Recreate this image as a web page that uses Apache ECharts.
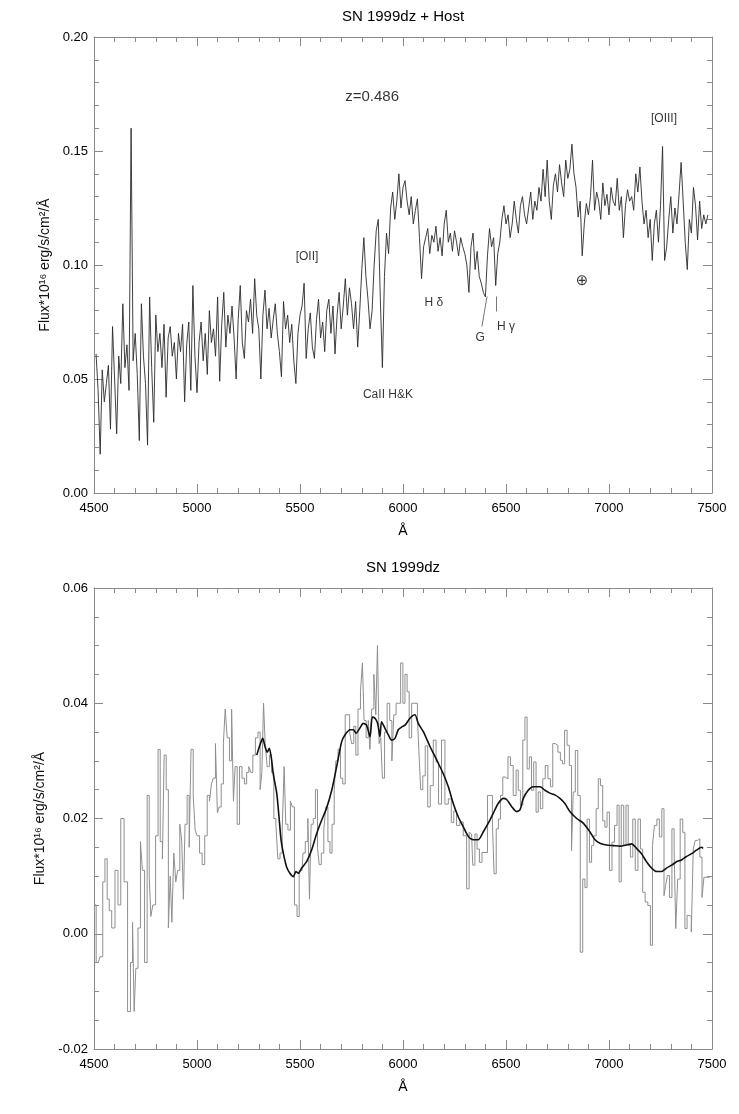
<!DOCTYPE html>
<html>
<head>
<meta charset="utf-8">
<script src="https://cdn.jsdelivr.net/npm/echarts@6/dist/echarts.min.js"></script>
<style>
html,body{margin:0;padding:0;background:#fff;}
#chart{width:739px;height:1114px;}
</style>
</head>
<body>
<div id="chart"></div>
<script>
// ---------- Top panel: SN 1999dz + Host (10 A sampling, first at 4510) ----------
const topStart = 4510;
const topStep = 10;
const topFlux = [
0.061,0.045,0.017,0.054,0.040,0.048,0.056,0.028,0.073,0.050,
0.026,0.060,0.048,0.083,0.055,0.065,0.045,0.160,0.058,0.070,
0.052,0.023,0.083,0.060,0.048,0.021,0.086,0.055,0.031,0.078,
0.062,0.070,0.055,0.074,0.042,0.068,0.073,0.060,0.066,0.050,
0.070,0.062,0.074,0.040,0.065,0.075,0.045,0.091,0.060,0.044,
0.066,0.075,0.058,0.070,0.052,0.080,0.066,0.072,0.060,0.086,
0.049,0.074,0.088,0.064,0.078,0.070,0.082,0.068,0.050,0.076,
0.091,0.066,0.059,0.080,0.075,0.085,0.070,0.094,0.078,0.072,
0.050,0.078,0.089,0.072,0.081,0.068,0.076,0.083,0.070,0.062,
0.051,0.084,0.072,0.078,0.066,0.074,0.058,0.048,0.070,0.078,
0.082,0.092,0.059,0.072,0.079,0.064,0.059,0.076,0.085,0.068,
0.075,0.062,0.080,0.085,0.070,0.082,0.061,0.078,0.088,0.072,
0.082,0.094,0.078,0.090,0.083,0.072,0.084,0.064,0.080,0.098,
0.112,0.095,0.085,0.072,0.080,0.100,0.115,0.120,0.085,0.055,
0.095,0.114,0.105,0.125,0.132,0.120,0.128,0.140,0.125,0.134,
0.137,0.128,0.122,0.130,0.118,0.124,0.129,0.112,0.094,0.108,
0.112,0.116,0.105,0.113,0.110,0.117,0.106,0.112,0.104,0.118,
0.124,0.110,0.114,0.106,0.115,0.110,0.104,0.112,0.108,0.105,
0.100,0.088,0.108,0.114,0.098,0.106,0.095,0.092,0.088,0.086,
0.104,0.116,0.108,0.112,0.091,0.105,0.110,0.120,0.126,0.118,
0.122,0.112,0.118,0.128,0.120,0.114,0.126,0.130,0.122,0.118,
0.125,0.132,0.120,0.128,0.124,0.134,0.128,0.142,0.130,0.146,
0.128,0.120,0.135,0.140,0.132,0.144,0.136,0.130,0.146,0.138,
0.142,0.153,0.140,0.134,0.121,0.128,0.104,0.118,0.127,0.122,
0.130,0.146,0.124,0.132,0.128,0.120,0.136,0.126,0.131,0.122,
0.134,0.128,0.126,0.138,0.124,0.130,0.112,0.126,0.133,0.128,
0.130,0.124,0.140,0.132,0.143,0.128,0.118,0.124,0.112,0.120,
0.102,0.118,0.124,0.110,0.126,0.152,0.102,0.108,0.120,0.130,
0.114,0.125,0.118,0.131,0.145,0.128,0.110,0.098,0.120,0.114,
0.134,0.126,0.111,0.128,0.116,0.122,0.118,0.122
];

// line identifications (text, wavelength, flux) in the top panel
const annoText = ['z=0.486','[OII]','CaII H&K','H \u03B4','G','H \u03B3','\u2295','[OIII]'];
const annoWave = [5850, 5534, 5927, 6150, 6374, 6500, 6869, 7267];
const annoFlux = [0.1736, 0.1037, 0.0431, 0.0835, 0.0681, 0.0730, 0.0932, 0.1640];
const annoSize = [15, 12, 12, 12, 12, 12, 15, 12];
// short marker lines for G and H gamma
const gLine = [[6383, 0.0730], [6408, 0.0862]];
const hgLine = [[6451, 0.0862], [6451, 0.0796]];

// ---------- Bottom panel: SN 1999dz binned spectrum ----------
const histWave = [
4500,4521,4537,4548,4558,4570,4578,4594,4610,4623,
4637,4655,4671,4683,4691,4699,4707,4720,4731,4739,
4752,4764,4772,4780,4791,4807,4815,4828,4836,4845,
4856,4866,4874,4882,4893,4901,4911,4922,4930,4938,
4946,4958,4966,4976,4987,4995,5006,5019,5031,5044,
5055,5066,5074,5084,5095,5103,5112,5123,5133,5141,
5152,5163,5173,5181,5189,5201,5212,5225,5236,5246,
5257,5265,5277,5290,5302,5311,5319,5327,5335,5346,
5357,5367,5379,5387,5398,5408,5419,5427,5435,5448,
5459,5467,5479,5492,5500,5510,5519,5532,5544,5548,
5560,5569,5581,5589,5597,5610,5621,5629,5642,5649,
5662,5670,5678,5691,5702,5713,5726,5736,5746,5755,
5767,5775,5788,5799,5807,5815,5827,5836,5843,5853,
5864,5872,5880,5888,5896,5904,5917,5929,5942,5950,
5961,5972,5983,5994,6005,6014,6026,6034,6050,6066,
6074,6082,6090,6102,6114,6126,6139,6155,6166,6179,
6195,6212,6228,6241,6252,6268,6284,6301,6317,6325,
6333,6344,6354,6365,6377,6390,6406,6414,6430,6438,
6446,6459,6467,6479,6490,6503,6516,6527,6543,6555,
6564,6576,6587,6597,6608,6619,6629,6640,6652,6661,
6673,6684,6697,6710,6721,6733,6746,6758,6770,6778,
6791,6802,6813,6823,6830,6843,6854,6867,6878,6888,
6899,6911,6920,6932,6943,6953,6964,6975,6985,6996,
7008,7021,7033,7045,7053,7066,7077,7088,7098,7110,
7121,7134,7147,7158,7169,7182,7195,7207,7215,7226,
7239,7250,7263,7271,7279,7288,7299,7312,7320,7328,
7339,7352,7364,7373,7385,7393,7406,7412,7425,7436,
7446,7457,7465,7490
];
const histFlux = [
0.005,-0.005,-0.004,0.009,0.013,0.006,0.004,0.001,0.011,0.005,
0.020,0.009,-0.0135,-0.005,0.002,-0.0135,-0.006,0.001,0.016,0.011,
-0.005,0.024,0.010,0.003,0.005,0.017,0.032,0.016,0.013,0.031,
0.025,0.001,0.010,0.002,0.014,0.009,0.011,0.019,0.016,0.006,
0.019,0.024,0.015,0.032,0.024,0.018,0.017,0.014,0.012,0.017,
0.024,0.023,0.026,0.027,0.033,0.021,0.022,0.026,0.033,0.039,
0.034,0.030,0.039,0.023,0.029,0.019,0.029,0.027,0.026,0.028,
0.029,0.028,0.031,0.034,0.035,0.025,0.028,0.040,0.033,0.029,
0.031,0.028,0.020,0.019,0.013,0.014,0.018,0.029,0.019,0.018,
0.023,0.022,0.005,0.003,0.011,0.011,0.014,0.016,0.020,0.006,
0.019,0.020,0.025,0.015,0.012,0.014,0.018,0.022,0.016,0.014,
0.019,0.025,0.030,0.032,0.027,0.026,0.038,0.038,0.035,0.033,
0.036,0.031,0.039,0.042,0.047,0.037,0.034,0.037,0.032,0.039,
0.045,0.038,0.050,0.033,0.034,0.027,0.035,0.040,0.037,0.030,
0.038,0.040,0.040,0.047,0.040,0.045,0.042,0.034,0.040,0.040,
0.0375,0.031,0.025,0.0274,0.0326,0.022,0.0257,0.0336,0.0298,0.0225,
0.0336,0.0225,0.0234,0.0193,0.0213,0.0188,0.0194,0.017,0.0078,0.0176,
0.0173,0.0119,0.0173,0.0147,0.0124,0.0141,0.0141,0.024,0.024,0.0194,
0.0104,0.0182,0.0199,0.024,0.0272,0.0269,0.0307,0.0292,0.024,0.0284,
0.0249,0.0223,0.0336,0.0376,0.0286,0.0307,0.0249,0.0298,0.0211,0.0246,
0.0217,0.0269,0.0292,0.0269,0.0255,0.033,0.0327,0.0315,0.0301,0.0295,
0.0353,0.0327,0.0292,0.0144,0.0246,0.0318,0.024,-0.0032,0.0095,0.008,
0.0199,0.0124,0.0153,0.017,0.0217,0.0269,0.0257,0.0196,0.0185,0.0211,
0.011,0.0159,0.0188,0.0223,0.009,0.0223,0.0153,0.0223,0.0153,0.0133,
0.0199,0.011,0.0199,0.0147,0.0072,0.0055,0.0049,-0.002,0.0153,0.0188,
0.0199,0.0168,0.0217,0.0066,0.0084,0.0101,0.0063,0.0182,0.0147,0.0009,
0.0095,0.0199,0.0176,0.0009,0.0032,0.003,0.0003,0.0147,0.0162,0.0165,
0.0133,0.0063,0.0098,0.0098
];

// smooth template fit
const tmplWave = [
5290,5306,5319,5330,5341,5351,5362,5370,5387,5398,
5408,5419,5435,5451,5468,5480,5492,5508,5532,5556,
5581,5605,5629,5654,5678,5702,5718,5743,5759,5772,
5791,5807,5823,5840,5851,5864,5877,5888,5896,5912,
5929,5945,5961,5977,5994,6010,6034,6058,6074,6098,
6131,6163,6195,6220,6244,6268,6292,6317,6341,6365,
6390,6414,6438,6462,6487,6503,6527,6551,6568,6584,
6608,6632,6665,6689,6713,6737,6762,6786,6810,6843,
6875,6907,6932,6956,6988,7021,7053,7085,7110,7134,
7158,7182,7207,7231,7255,7279,7304,7328,7352,7376,
7401,7425,7449,7457
];
const tmplFlux = [
0.0310,0.0328,0.0339,0.0325,0.0315,0.0322,0.0302,0.0278,0.0244,0.0203,
0.0163,0.0140,0.0116,0.0105,0.0099,0.0108,0.0105,0.0114,0.0125,0.0145,
0.0174,0.0197,0.0218,0.0249,0.0290,0.0333,0.0345,0.0354,0.0354,0.0348,
0.0357,0.0365,0.0362,0.0342,0.0376,0.0374,0.0365,0.0342,0.0368,0.0357,
0.0345,0.0336,0.0339,0.0354,0.0359,0.0362,0.0374,0.0380,0.0365,0.0351,
0.0325,0.0302,0.0278,0.0255,0.0226,0.0203,0.0186,0.0169,0.0163,0.0163,
0.0177,0.0192,0.0209,0.0226,0.0235,0.0233,0.0221,0.0212,0.0215,0.0235,
0.0249,0.0255,0.0255,0.0249,0.0244,0.0241,0.0235,0.0226,0.0212,0.0200,
0.0192,0.0177,0.0163,0.0157,0.0154,0.0153,0.0152,0.0154,0.0156,0.0148,
0.0139,0.0125,0.0114,0.0108,0.0108,0.0114,0.0119,0.0125,0.0128,0.0134,
0.0139,0.0145,0.0150,0.0148
];

// axis tick settings
const xMin = 4500, xMax = 7500, xInterval = 500;
const topYMin = 0, topYMax = 0.20, topYInterval = 0.05;
const botYMin = -0.02, botYMax = 0.06, botYInterval = 0.02;
const yName = 'Flux*10\u00B9\u2076 erg/s/cm\u00B2/\u00C5';

// ---------- build ----------
const FONT = '"Liberation Sans", Arial, "DejaVu Sans", sans-serif';
const frameColor = '#8a8a8a';
const textColor = '#000';
const topData = topFlux.map((v, i) => [topStart + i * topStep, v]);
const histData = histWave.map((w, i) => [w, histFlux[i]]);
const tmplData = tmplWave.map((w, i) => [w, tmplFlux[i]]);
const annoData = annoText.map((t, i) => ({
  value: [annoWave[i], annoFlux[i]],
  label: { formatter: t, fontSize: annoSize[i] }
}));

function xAx(grid, pos, labels) {
  return {
    type: 'value', gridIndex: grid, position: pos,
    min: xMin, max: xMax, interval: xInterval,
    axisLine: { show: true, onZero: false, lineStyle: { color: frameColor, width: 1 } },
    axisTick: { show: true, inside: true, length: 9, lineStyle: { color: frameColor } },
    minorTick: { show: true, splitNumber: 5, length: 5, lineStyle: { color: frameColor } },
    splitLine: { show: false },
    axisLabel: { show: labels, margin: 9, fontSize: 13, color: textColor, fontFamily: FONT,
      formatter: v => String(Math.round(v)) },
    name: labels ? '\u00C5' : '', nameLocation: 'middle', nameGap: 31,
    nameTextStyle: { fontSize: 14, color: textColor, fontFamily: FONT }
  };
}
function yAx(grid, pos, labels, mn, mx, iv, minorSplit) {
  return {
    type: 'value', gridIndex: grid, position: pos,
    min: mn, max: mx, interval: iv,
    axisLine: { show: true, onZero: false, lineStyle: { color: frameColor, width: 1 } },
    axisTick: { show: true, inside: true, length: 9, lineStyle: { color: frameColor } },
    minorTick: { show: true, splitNumber: minorSplit, length: 5, lineStyle: { color: frameColor } },
    splitLine: { show: false },
    axisLabel: { show: labels, margin: 6, fontSize: 13, color: textColor, fontFamily: FONT,
      formatter: v => (Math.abs(v) < 1e-9 ? 0 : v).toFixed(2) },
    name: labels ? yName : '', nameLocation: 'middle', nameGap: 36, nameRotate: 90,
    nameTextStyle: { fontSize: 14, color: '#111', fontFamily: FONT }
  };
}

const chart = echarts.init(document.getElementById('chart'), null, { renderer: 'canvas' });
chart.setOption({
  animation: false,
  backgroundColor: '#fff',
  grid: [
    { left: 94, top: 37, width: 618, height: 456 },
    { left: 94, top: 588, width: 618, height: 461 }
  ],
  xAxis: [
    xAx(0, 'bottom', true), xAx(0, 'top', false),
    xAx(1, 'bottom', true), xAx(1, 'top', false)
  ],
  yAxis: [
    yAx(0, 'left', true, topYMin, topYMax, topYInterval, 5),
    yAx(0, 'right', false, topYMin, topYMax, topYInterval, 5),
    yAx(1, 'left', true, botYMin, botYMax, botYInterval, 4),
    yAx(1, 'right', false, botYMin, botYMax, botYInterval, 4)
  ],
  graphic: [
    { type: 'text', x: 403, y: 17, style: { text: 'SN 1999dz + Host', fontSize: 15, fontFamily: FONT, fill: textColor, align: 'center', verticalAlign: 'middle', textAlign: 'center', textVerticalAlign: 'middle' } },
    { type: 'text', x: 403, y: 568, style: { text: 'SN 1999dz', fontSize: 15, fontFamily: FONT, fill: textColor, align: 'center', verticalAlign: 'middle', textAlign: 'center', textVerticalAlign: 'middle' } }
  ],
  series: [
    {
      type: 'line', xAxisIndex: 0, yAxisIndex: 0, data: topData,
      showSymbol: false, symbol: 'none', lineStyle: { color: '#2a2a2a', width: 0.9 }
    },
    {
      type: 'scatter', xAxisIndex: 0, yAxisIndex: 0, data: annoData,
      symbolSize: 0, silent: true,
      label: { show: true, position: 'inside', color: textColor, fontFamily: FONT + ', "DejaVu Sans"' },
      markLine: {
        silent: true, symbol: ['none', 'none'], label: { show: false },
        lineStyle: { color: '#555', width: 0.8, type: 'solid' },
        data: [
          [{ coord: gLine[0] }, { coord: gLine[1] }],
          [{ coord: hgLine[0] }, { coord: hgLine[1] }]
        ]
      }
    },
    {
      type: 'line', xAxisIndex: 2, yAxisIndex: 2, data: histData, step: 'middle',
      showSymbol: false, symbol: 'none', lineStyle: { color: '#8f8f8f', width: 1 }
    },
    {
      type: 'line', xAxisIndex: 2, yAxisIndex: 2, data: tmplData, smooth: 0.25,
      showSymbol: false, symbol: 'none', lineStyle: { color: '#111', width: 1.6 }
    }
  ]
});
</script>
</body>
</html>
